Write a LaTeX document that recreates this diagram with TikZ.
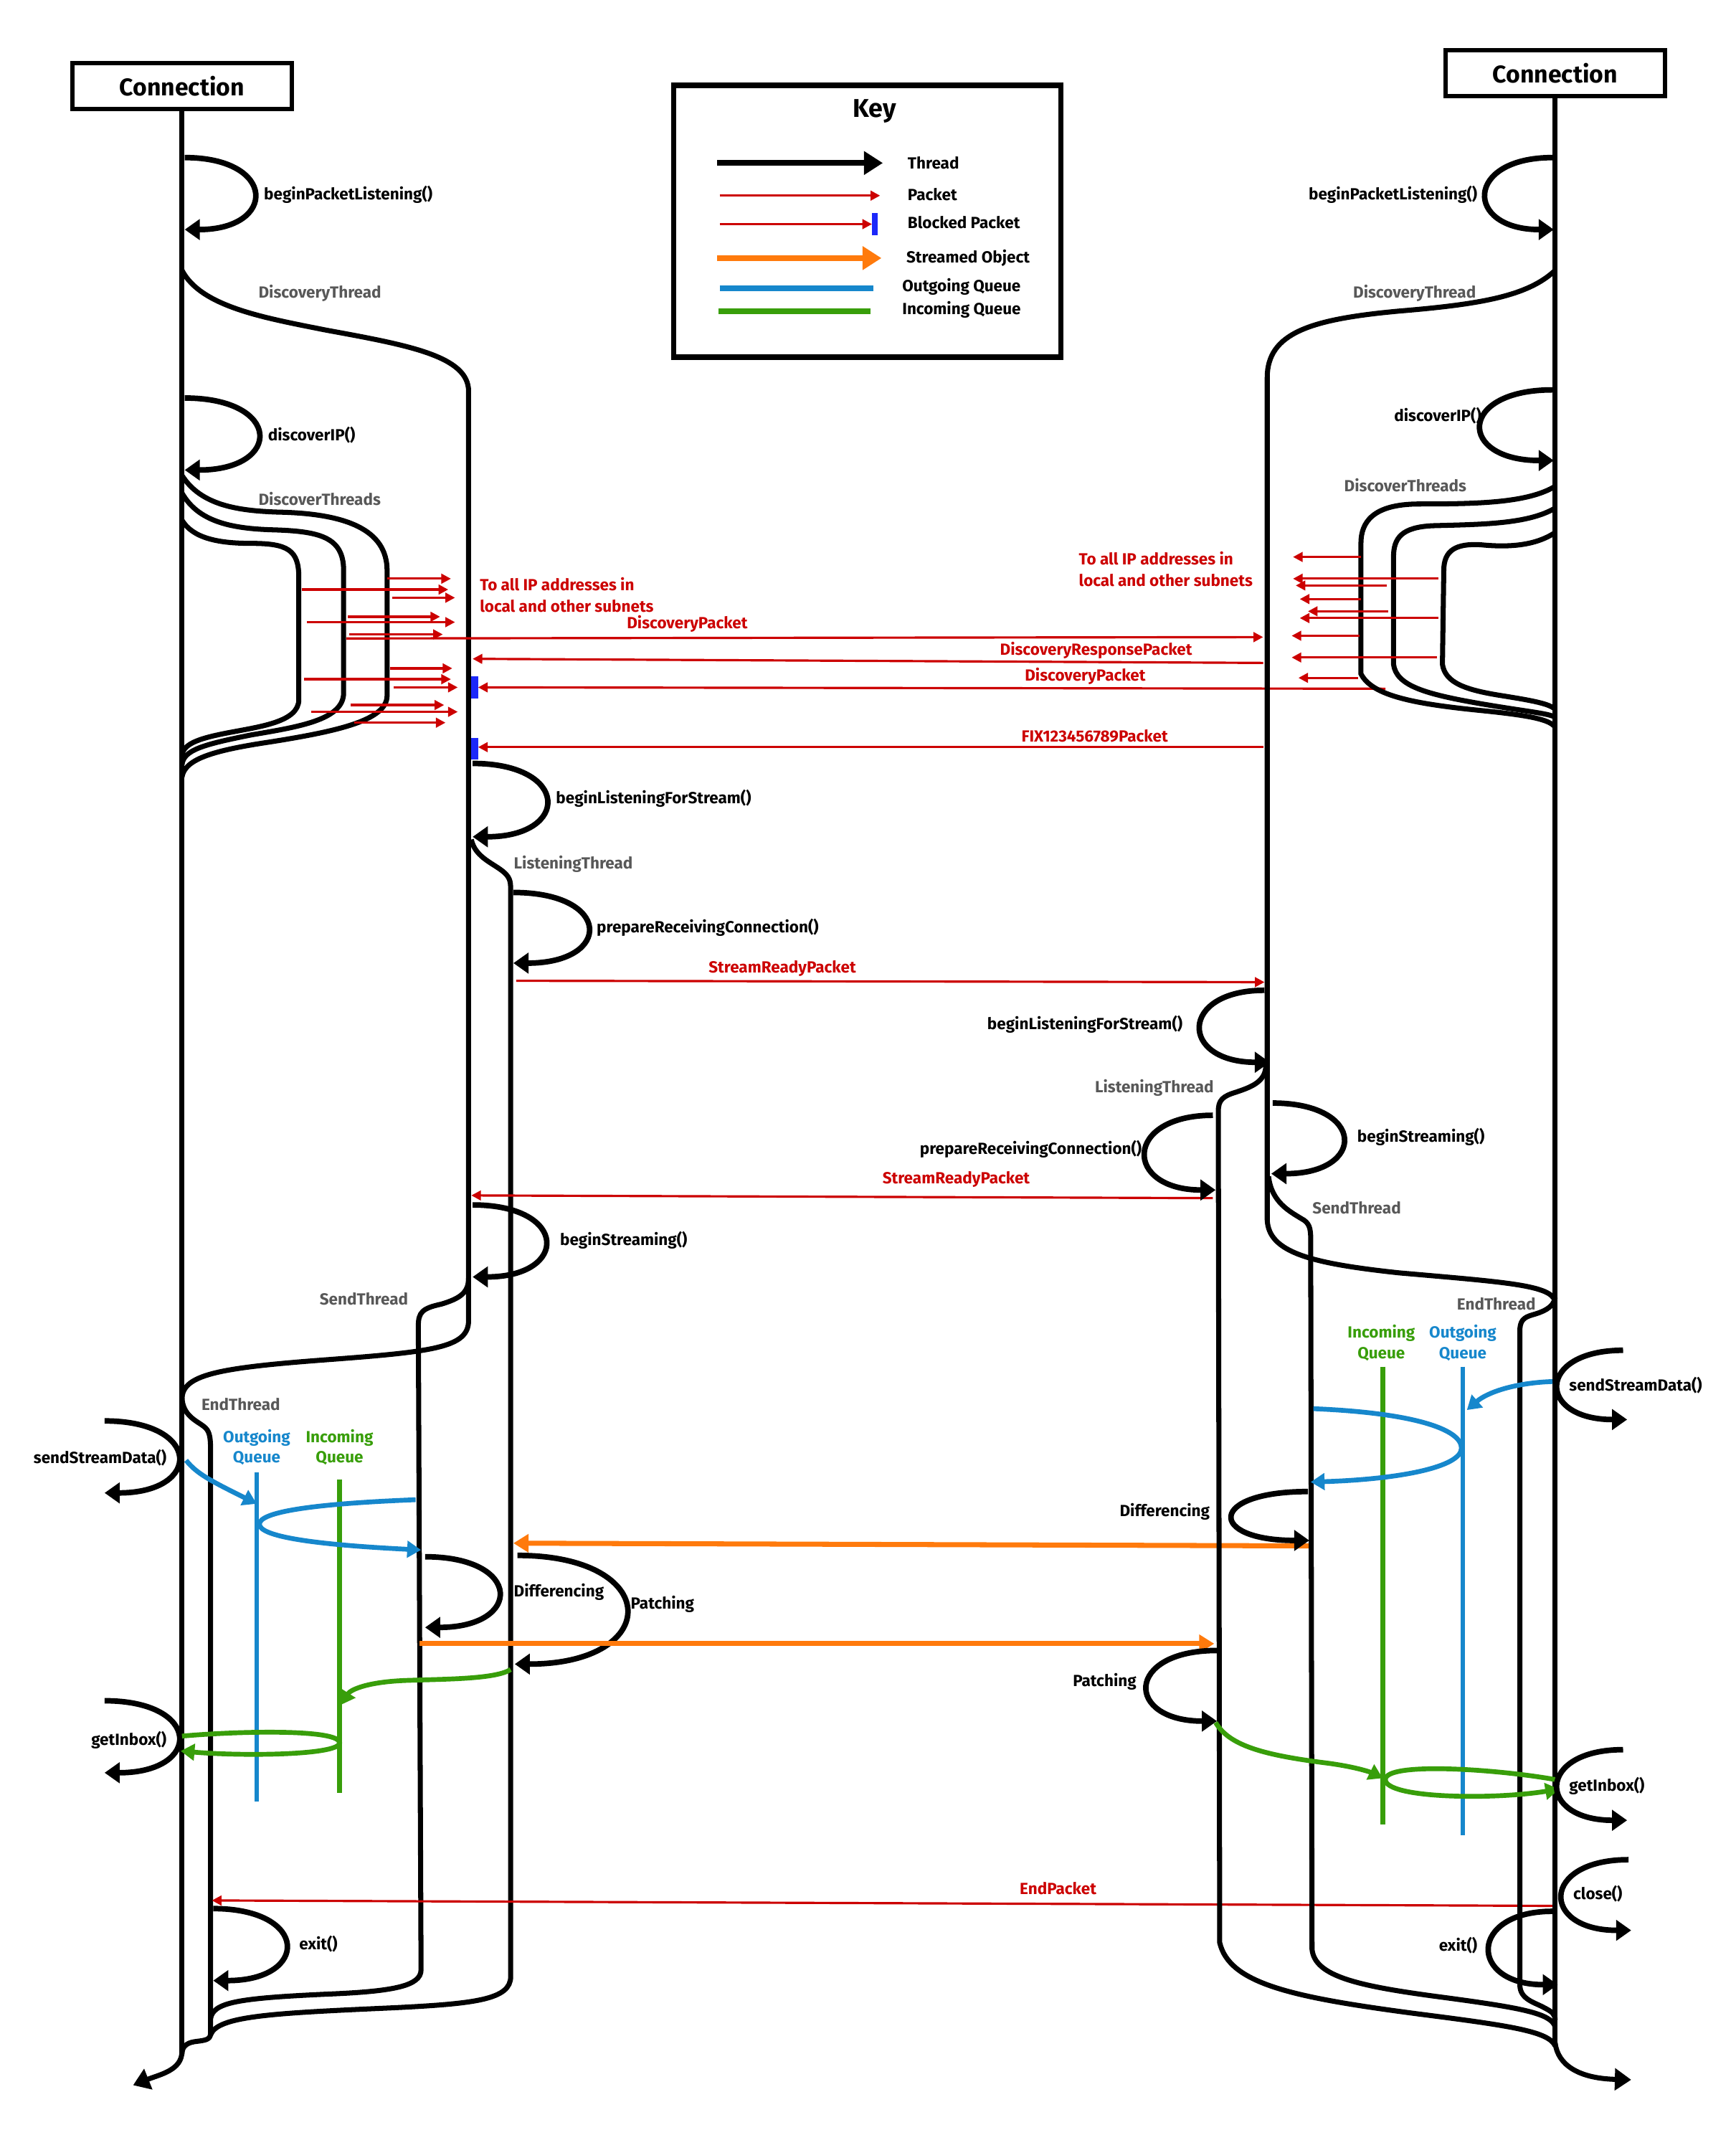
\documentclass[tikz,border=0pt]{standalone}
\usepackage{fontspec}
\setmainfont{Fira Sans}
\usetikzlibrary{arrows.meta}
\definecolor{pktred}{RGB}{204,0,0}
\definecolor{blockblue}{RGB}{28,40,250}
\definecolor{outblue}{RGB}{22,135,204}
\definecolor{ingreen}{RGB}{56,158,10}
\definecolor{streamorange}{RGB}{255,122,12}
\definecolor{thgray}{RGB}{88,88,88}
\newcommand\labfont{\fontsize{6.4}{8.1}\selectfont\bfseries}
\newcommand\connfont{\fontsize{9.6}{11}\selectfont\bfseries}
\newcommand\keyfont{\fontsize{10.2}{12}\selectfont\bfseries}
\begin{document}
\begin{tikzpicture}[x=0.018936cm,y=-0.018936cm,
  thread/.style={draw=black,line width=2pt},
  call/.style={draw=black,line width=2.2pt,-{Triangle[length=6pt,width=8pt]}},
  exitarrow/.style={draw=black,line width=2pt,-{Triangle[length=6.5pt,width=8.5pt]}},
  packet/.style={draw=pktred,line width=0.9pt,-{Triangle[length=3.8pt,width=3.8pt]}},
  blocker/.style={fill=blockblue},
  outq/.style={draw=outblue,line width=1.9pt},
  inq/.style={draw=ingreen,line width=1.9pt},
  qtip/.style={-{Triangle[length=5.5pt,width=6.5pt]}},
  stream/.style={draw=streamorange,line width=2pt,-{Triangle[length=6pt,width=7pt]}},
  lab/.style={font=\labfont,inner sep=0pt},
  fn/.style={lab,text=black},
  thr/.style={lab,text=thgray},
  pk/.style={lab,text=pktred},
  qlab/.style={lab,align=center},
  conn/.style={draw,line width=1.7pt,minimum width=87.2pt,minimum height=18.2pt,inner sep=0pt,font=\connfont},
]
\fill[white] (0,0) rectangle (1278,1568);
\useasboundingbox (0,0) rectangle (1278,1568);

% ================= key =================
\node[draw,line width=2.2pt,minimum width=153.6pt,minimum height=107.8pt,inner sep=0pt] (keybox) at (638.5,163) {};
\node[font=\keyfont,inner sep=0pt] (keytitle) at (644,82) {Key};
\draw[line width=2.3pt,-{Triangle[length=7.5pt,width=9pt]}] (528,120) -- (650,120);
\draw[packet] (530,144) -- (648,144);
\draw[packet] (530,165) -- (642,165);
\fill[blocker] (642,157) rectangle (646,173);
\draw[draw=streamorange,line width=2.3pt,-{Triangle[length=7.5pt,width=9pt]}] (528,190) -- (649,190);
\draw[draw=outblue,line width=2.3pt] (530,212) -- (643,212);
\draw[draw=ingreen,line width=2.3pt] (529,229) -- (641,229);
\node[fn,anchor=west] (kThread) at (668,120) {Thread};
\node[fn,anchor=west] (kPacket) at (668,143) {Packet};
\node[fn,anchor=west] (kBlocked) at (668,164) {Blocked Packet};
\node[fn,anchor=west] (kStream) at (667,190) {Streamed Object};
\node[fn,anchor=west] (kOut) at (664,211) {Outgoing Queue};
\node[fn,anchor=west] (kIn) at (664,228) {Incoming Queue};

% ================= left connection =================
\node[conn] (connL) at (134,63.5) {Connection};
\draw[thread] (connL.south) -- (134,1512);
\draw[exitarrow] (134,1510) .. controls (134,1524) and (118,1527) .. (98,1535);

\draw[call] (136,116) .. controls (204,116) and (204,169) .. (136,169);
\node[fn,anchor=west] (bplL) at (194,143) {beginPacketListening()};

% discovery thread
\draw[thread] (134,199) .. controls (148,226) and (195,234) .. (240,243) .. controls (300,254) and (345,262) .. (345,288) -- (345,972) .. controls (345,992) and (320,995) .. (240,1001) .. controls (160,1007) and (134,1012) .. (134,1030);
\node[thr,anchor=west] (dtL) at (190,216) {DiscoveryThread};

\draw[call] (136,293) .. controls (208,293) and (208,346) .. (136,346);
\node[fn,anchor=west] (dipL) at (197,320) {discoverIP()};

% discover threads
\draw[thread] (134,350) .. controls (148,372) and (175,376) .. (205,377) .. controls (255,378) and (285,390) .. (285,420) -- (285,512) .. controls (285,530) and (250,538) .. (200,546) .. controls (160,552) and (136,558) .. (134,572);
\draw[thread] (134,363) .. controls (146,384) and (170,389) .. (200,390) .. controls (235,391) and (253,395) .. (253,420) -- (253,510) .. controls (253,530) and (220,535) .. (185,541) .. controls (150,548) and (135,552) .. (134,563);
\draw[thread] (134,383) .. controls (142,396) and (160,400) .. (185,400) .. controls (212,400) and (220,405) .. (220,425) -- (220,515) .. controls (220,532) and (190,535) .. (165,540) .. controls (145,544) and (135,548) .. (134,556);
\node[thr,anchor=west] (dtsL) at (190,367) {DiscoverThreads};

\foreach \ya/\xa/\xb in {426/285/332, 434/222/330, 440/289/335, 454/256/324, 458/226/335, 467/257/326, 492/287/333, 500/224/332, 506/290/337, 519/258/327, 524/229/337, 532/261/328}
  \draw[packet] (\xa,\ya) -- (\xb,\ya);
\node[pk,anchor=west] (toAllL1) at (353,430) {To all IP addresses in};
\node[pk,anchor=west] (toAllL2) at (353,446) {local and other subnets};

% packets between the two sides
\draw[packet] (255,470) -- (930,469);
\node[pk] (dpk1) at (506,459) {DiscoveryPacket};
\draw[packet] (930,488) -- (348,485);
\node[pk] (drp) at (807,479) {DiscoveryResponsePacket};
\draw[packet] (1020,507) -- (352,506);
\fill[blocker] (347,498) rectangle (352,514);
\node[pk] (dpk2) at (799,498) {DiscoveryPacket};
\draw[packet] (930,550) -- (352,550);
\fill[blocker] (347,543) rectangle (352,559);
\node[pk] (fixpk) at (806,542) {FIX123456789Packet};

% listening thread
\draw[call] (348,562) .. controls (420,562) and (420,616) .. (348,616);
\node[fn,anchor=west] (blfsL) at (409,588) {beginListeningForStream()};
\draw[thread] (347,618) .. controls (350,632) and (365,636) .. (372,643) .. controls (376,647) and (376,650) .. (376,657) -- (376,1455) .. controls (376,1472) and (350,1475) .. (290,1478) .. controls (200,1482) and (160,1484) .. (155,1498);
\node[thr,anchor=west] (ltL) at (378,636) {ListeningThread};
\draw[call] (378,657) .. controls (451,657) and (451,709) .. (378,709);
\node[fn,anchor=west] (prcL) at (439,683) {prepareReceivingConnection()};

\draw[packet] (380,722) -- (931,723);
\node[pk] (srp1) at (576,713) {StreamReadyPacket};
\draw[packet] (893,882) -- (347,880);
\node[pk] (srp2) at (704,868) {StreamReadyPacket};

% send thread
\draw[call] (348,887) .. controls (419,887) and (419,940) .. (348,940);
\node[fn,anchor=west] (bsL) at (412,913) {beginStreaming()};
\draw[thread] (345,941) .. controls (345,952) and (338,956) .. (325,960) .. controls (311,963) and (308,966) .. (308,976) -- (310,1450) .. controls (310,1462) and (290,1466) .. (240,1468) .. controls (175,1471) and (157,1474) .. (155,1486);
\node[thr,anchor=west] (stL) at (235,956) {SendThread};

% end thread
\draw[thread] (134,1028) .. controls (134,1042) and (145,1046) .. (150,1050) .. controls (154,1053) and (155,1057) .. (155,1066) -- (155,1497) .. controls (155,1502) and (150,1502) .. (143,1503) .. controls (137,1504) and (134,1507) .. (134,1512);
\node[thr,anchor=west] (etL) at (148,1034) {EndThread};

% queues
\node[qlab,text=outblue] (oqL) at (189,1065.5) {Outgoing\\Queue};
\node[qlab,text=ingreen] (iqL) at (250,1065.5) {Incoming\\Queue};
\draw[outq] (189,1084) -- (189,1326);
\draw[inq] (250,1089) -- (250,1320);

\draw[call] (77,1046) .. controls (149,1046) and (149,1099) .. (77,1099);
\node[fn,anchor=east] (ssdL) at (123,1073) {sendStreamData()};
\draw[outq,qtip] (137,1075) .. controls (145,1085) and (155,1090) .. (189,1107);
\draw[outq,qtip] (306,1104) .. controls (230,1107) and (191,1113) .. (191,1122) .. controls (191,1131) and (230,1137) .. (310,1141);

\draw[call] (313,1146) .. controls (385,1146) and (385,1198) .. (313,1198);
\node[fn,anchor=west] (difL) at (378,1172) {Differencing};
\draw[stream] (964,1138) -- (378,1136);
\draw[call] (381,1145) .. controls (488,1145) and (488,1225) .. (379,1225);
\node[fn,anchor=west] (patL) at (464,1181) {Patching};
\draw[stream] (309,1210) -- (894,1210);
\draw[inq,qtip] (376,1229) .. controls (365,1236) and (330,1236) .. (300,1237) .. controls (270,1238) and (258,1244) .. (251,1255);

\draw[call] (77,1252) .. controls (149,1252) and (149,1305) .. (77,1305);
\node[fn,anchor=east] (giL) at (123,1281) {getInbox()};
\draw[inq,qtip] (134,1278) .. controls (180,1274) and (250,1273) .. (250,1283) .. controls (250,1292) and (180,1293) .. (133,1289);

\draw[packet] (1143,1403) -- (156,1399);
\node[pk] (endpk) at (779,1390) {EndPacket};
\draw[call] (157,1405) .. controls (228,1405) and (228,1458) .. (157,1458);
\node[fn,anchor=west] (exL) at (220,1431) {exit()};

% ================= right connection =================
\node[conn] (connR) at (1145,54) {Connection};
\draw[thread] (connR.south) -- (1145,1506);
\draw[exitarrow] (1145,1504) .. controls (1147,1520) and (1162,1530) .. (1201,1531);

\draw[call] (1143,116) .. controls (1078,116) and (1078,169) .. (1144,169);
\node[fn,anchor=east] (bplR) at (1088,143) {beginPacketListening()};

\draw[thread] (1145,199) .. controls (1125,218) and (1090,224) .. (1030,229) .. controls (965,235) and (933,245) .. (933,278) -- (933,898) .. controls (934,922) and (965,930) .. (1030,937) .. controls (1110,944) and (1142,946) .. (1145,958);
\node[thr,anchor=east] (dtR) at (1087,216) {DiscoveryThread};

\draw[call] (1143,287) .. controls (1073,287) and (1073,339) .. (1144,339);
\node[fn,anchor=east] (dipR) at (1091,306) {discoverIP()};

\draw[thread] (1145,358) .. controls (1125,370) and (1090,371) .. (1045,371) .. controls (1010,371) and (1002,385) .. (1002,400) -- (1002,496) .. controls (1010,512) and (1040,518) .. (1090,523) .. controls (1130,527) and (1140,530) .. (1145,535);
\draw[thread] (1145,374) .. controls (1125,386) and (1090,386) .. (1055,387) .. controls (1032,388) and (1026,396) .. (1026,410) -- (1026,489) .. controls (1028,505) and (1050,511) .. (1090,518) .. controls (1125,524) and (1140,525) .. (1145,528);
\draw[thread] (1145,392) .. controls (1130,402) and (1110,403) .. (1090,401) .. controls (1072,400) and (1063,405) .. (1063,420) -- (1062,489) .. controls (1064,503) and (1080,508) .. (1105,512) .. controls (1130,516) and (1140,518) .. (1145,522);
\node[thr,anchor=east] (dtsR) at (1080,357) {DiscoverThreads};

\foreach \ya/\xa/\xb in {410/1002/952, 426/1059/952, 431/1021/954, 441/1002/957, 450/1022/963, 455/1059/957, 468/1001/951, 484/1058/951, 499/1000/956}
  \draw[packet] (\xa,\ya) -- (\xb,\ya);
\node[pk,anchor=west] (toAllR1) at (794,411) {To all IP addresses in};
\node[pk,anchor=west] (toAllR2) at (794,427) {local and other subnets};

\draw[call] (931,729) .. controls (868,729) and (868,782) .. (935,782);
\node[fn,anchor=east] (blfsR) at (871,754) {beginListeningForStream()};
\draw[thread] (932,784) .. controls (932,796) and (922,800) .. (910,804) .. controls (900,807) and (897,810) .. (897,818) -- (898,1430) .. controls (905,1460) and (950,1470) .. (1040,1482) .. controls (1110,1491) and (1140,1495) .. (1145,1506);
\node[thr,anchor=east] (ltR) at (894,801) {ListeningThread};
\draw[call] (893,821) .. controls (827,821) and (827,876) .. (895,876);
\node[fn,anchor=east] (prcR) at (841,846) {prepareReceivingConnection()};

\draw[call] (937,812) .. controls (1006,812) and (1006,864) .. (936,864);
\node[fn,anchor=west] (bsR) at (999,837) {beginStreaming()};
\draw[thread] (934,866) .. controls (936,885) and (950,892) .. (958,897) .. controls (964,900) and (965,904) .. (965,912) -- (966,1435) .. controls (968,1455) and (1000,1462) .. (1060,1470) .. controls (1120,1478) and (1142,1482) .. (1145,1492);
\node[thr,anchor=west] (stR) at (966,889) {SendThread};

\draw[thread] (1145,955) .. controls (1144,963) and (1135,966) .. (1128,968) .. controls (1121,970) and (1119,973) .. (1119,980) -- (1119,1461) .. controls (1119,1472) and (1130,1474) .. (1137,1478) .. controls (1143,1481) and (1145,1483) .. (1145,1487);
\node[thr,anchor=east] (etR) at (1131,960) {EndThread};

\node[qlab,text=ingreen] (iqR) at (1017,988.5) {Incoming\\Queue};
\node[qlab,text=outblue] (oqR) at (1077,988.5) {Outgoing\\Queue};
\draw[inq] (1018,1006) -- (1018,1343);
\draw[outq] (1077,1006) -- (1077,1351);

\draw[call] (1195,994) .. controls (1131,994) and (1131,1045) .. (1198,1045);
\node[fn,anchor=west] (ssdR) at (1155,1020) {sendStreamData()};
\draw[outq,qtip] (1143,1017) .. controls (1115,1018) and (1095,1025) .. (1080,1038);
\draw[outq,qtip] (967,1037) .. controls (1040,1040) and (1076,1052) .. (1076,1066) .. controls (1076,1080) and (1030,1089) .. (965,1091);

\draw[call] (963,1098) .. controls (889,1098) and (889,1134) .. (964,1134);
\node[fn,anchor=east] (difR) at (891,1113) {Differencing};
\draw[call] (896,1215) .. controls (828,1215) and (828,1267) .. (896,1267);
\node[fn,anchor=east] (patR) at (837,1238) {Patching};
\draw[inq,qtip] (895,1268) .. controls (905,1285) and (930,1292) .. (978,1298) .. controls (1000,1301) and (1010,1305) .. (1018,1309);
\draw[inq,qtip] (1145,1310) .. controls (1100,1302) and (1020,1297) .. (1020,1310) .. controls (1020,1324) and (1100,1325) .. (1148,1317);

\draw[call] (1195,1288) .. controls (1131,1288) and (1131,1340) .. (1198,1340);
\node[fn,anchor=west] (giR) at (1155,1315) {getInbox()};
\draw[call] (1199,1369) .. controls (1134,1369) and (1134,1421) .. (1201,1421);
\node[fn,anchor=west] (clR) at (1158,1394) {close()};
\draw[call] (1143,1407) .. controls (1081,1407) and (1081,1461) .. (1147,1461);
\node[fn,anchor=east] (exR) at (1088,1432) {exit()};
\end{tikzpicture}
\end{document}
